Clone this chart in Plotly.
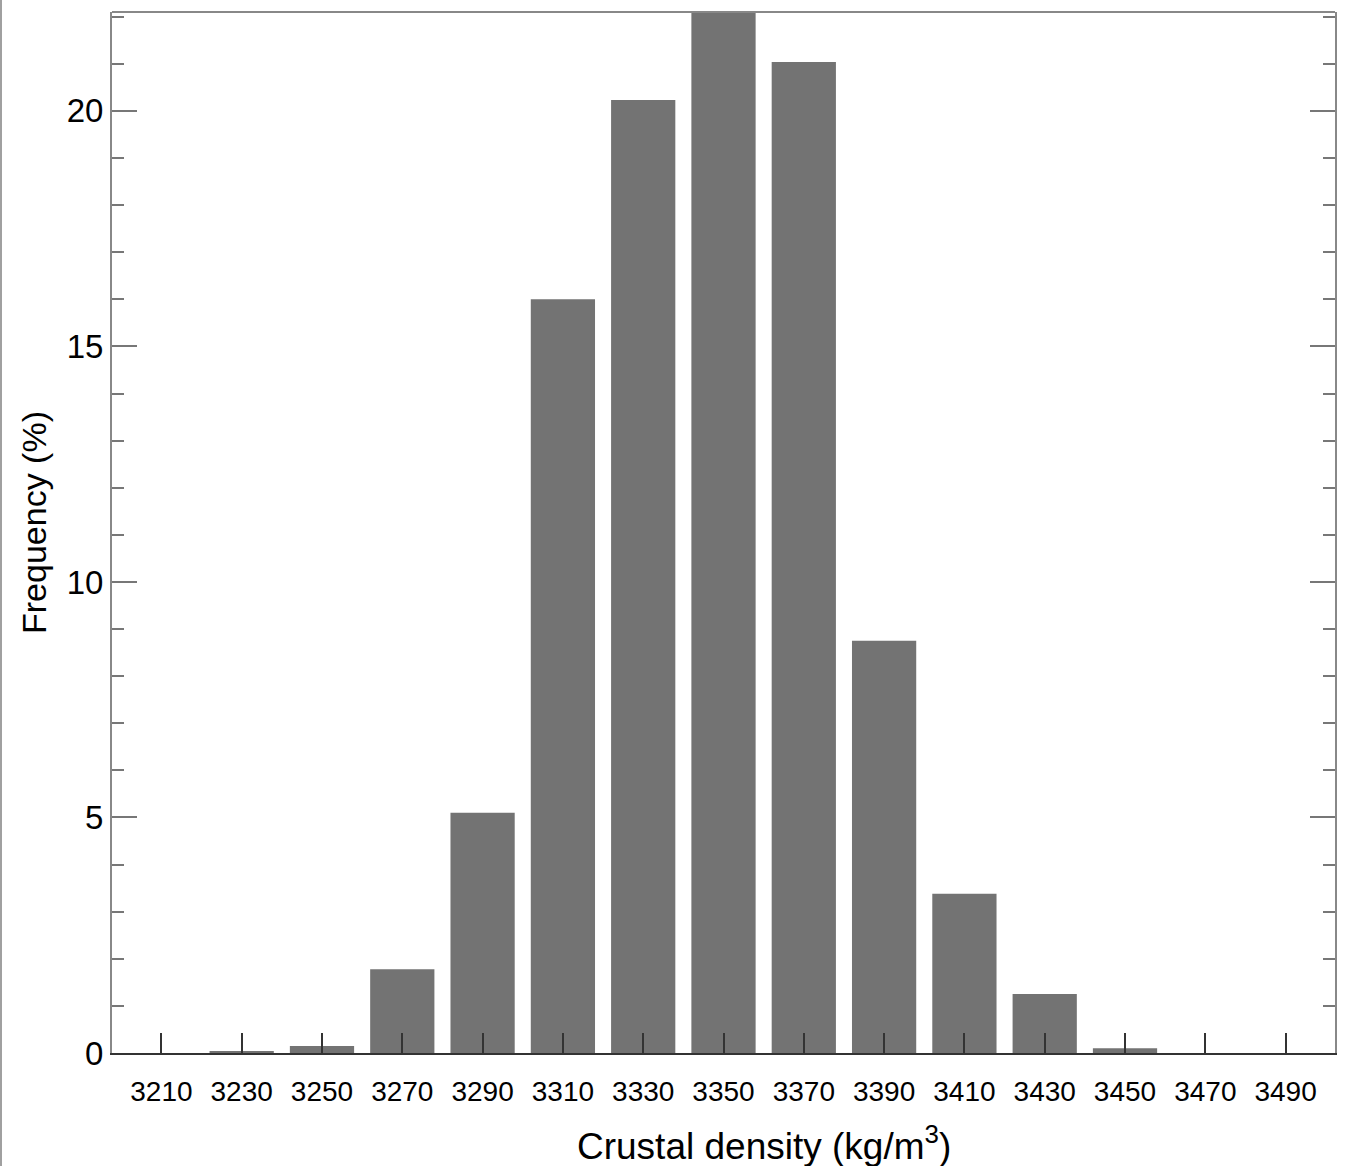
import plotly.graph_objects as go

density = [3210, 3230, 3250, 3270, 3290, 3310, 3330, 3350, 3370, 3390, 3410, 3430, 3450, 3470, 3490]
frequency = [0.0, 0.03, 0.15, 1.78, 5.1, 16.0, 20.23, 22.5, 21.04, 8.75, 3.38, 1.25, 0.1, 0.0, 0.0]
tick_labels = [str(d) for d in density]

font_family = "Liberation Sans, Arial, Helvetica, sans-serif"

PW, PH = 1223, 1041  # plot area size in px (for paper-coordinate placement)

fig = go.Figure()
fig.add_trace(go.Bar(
    x=density, y=frequency, width=16,
    marker=dict(color="#737373", line=dict(width=0)),
))

fig.update_layout(
    width=1350, height=1166,
    margin=dict(l=112, r=15, t=12, b=113),
    plot_bgcolor="white", paper_bgcolor="white",
    showlegend=False,
    font=dict(family=font_family, color="black"),
    xaxis=dict(
        range=[3197.7, 3502.3],
        tickmode="array", tickvals=density, ticktext=tick_labels,
        ticks="inside", ticklen=20, tickwidth=2, tickcolor="#333",
        showline=True, linecolor="#333", linewidth=2, mirror=False,
        showgrid=False, zeroline=False,
        tickfont=dict(size=28),
        ticklabelstandoff=12,
    ),
    yaxis=dict(
        range=[0, 22.1],
        tickmode="linear", tick0=0, dtick=5,
        ticks="inside", ticklen=25, tickwidth=2, tickcolor="#777",
        minor=dict(dtick=1, ticks="inside", ticklen=12, tickwidth=2, tickcolor="#777"),
        showline=True, linecolor="#888", linewidth=2, mirror="ticks",
        showgrid=False, zeroline=False,
        tickfont=dict(size=33),
    ),
    annotations=[
        dict(text="Crustal density (kg/m<sup>3</sup>)", xref="paper", yref="paper",
             x=(764 - 112) / PW, y=(1053 - 1143) / PH, xanchor="center", yanchor="middle",
             showarrow=False, font=dict(size=37)),
        dict(text="Frequency (%)", xref="paper", yref="paper",
             x=(34 - 112) / PW, y=(1053 - 523) / PH, xanchor="center", yanchor="middle",
             textangle=-90, showarrow=False, font=dict(size=34)),
    ],
    shapes=[
        dict(type="line", xref="paper", yref="paper", x0=0, x1=1, y0=1, y1=1,
             line=dict(color="#888", width=2)),
        dict(type="line", xref="paper", yref="paper", x0=-111 / PW, x1=-111 / PW,
             y0=-113 / PH, y1=1 + 12 / PH,
             line=dict(color="#a0a0a0", width=2)),
    ],
)

fig.write_html("out.html")
